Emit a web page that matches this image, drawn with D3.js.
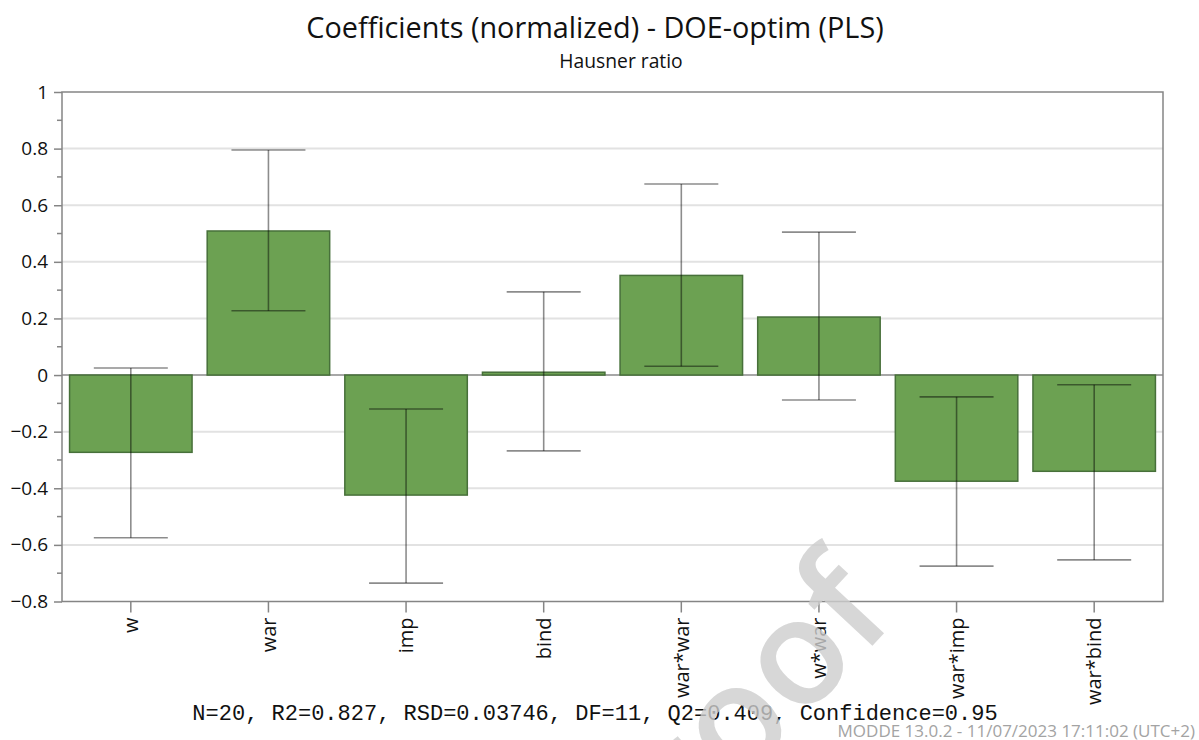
<!DOCTYPE html>
<html>
<head>
<meta charset="utf-8">
<script src="https://cdn.jsdelivr.net/npm/d3@7"></script>
<style>
  body { margin: 0; background: #fff; }
  svg { display: block; font-family: "Open Sans", "Noto Sans", sans-serif; }
</style>
</head>
<body>
<div id="chart"></div>
<script>
const terms = ['w', 'war', 'imp', 'bind', 'war*war', 'w*war', 'war*imp', 'war*bind'];
const coefficients = [-0.273, 0.509, -0.424, 0.01, 0.352, 0.205, -0.375, -0.34];
const ciUpper = [0.025, 0.795, -0.12, 0.294, 0.675, 0.505, -0.077, -0.034];
const ciLower = [-0.575, 0.227, -0.735, -0.268, 0.031, -0.088, -0.675, -0.653];
const yTicks = [-0.8, -0.6, -0.4, -0.2, 0, 0.2, 0.4, 0.6, 0.8, 1];
const yMinorTicks = [-0.7, -0.5, -0.3, -0.1, 0.1, 0.3, 0.5, 0.7, 0.9];

const title = 'Coefficients (normalized) - DOE-optim (PLS)';
const subtitle = 'Hausner ratio';
const footer = 'N=20, R2=0.827, RSD=0.03746, DF=11, Q2=0.409, Confidence=0.95';
const stamp = 'MODDE 13.0.2 - 11/07/2023 17:11:02 (UTC+2)';

const data = terms.map((t, i) => ({
    term: t, value: coefficients[i], hi: ciUpper[i], lo: ciLower[i]
}));

const width = 1199;
const height = 740;
const margin = { top: 92, right: 36, bottom: 138.5, left: 62 };

const svg = d3.select('#chart')
    .append('svg')
    .attr('width', width)
    .attr('height', height);

const x = d3.scaleBand()
    .domain(terms)
    .range([margin.left, width - margin.right])
    .paddingInner(0.11)
    .paddingOuter(0.055);

const y = d3.scaleLinear()
    .domain([-0.8, 1])
    .range([height - margin.bottom, margin.top]);

// grid
svg.append('g')
    .selectAll('line')
    .data(yTicks.filter(d => d !== 0 && d !== 1 && d !== -0.8))
    .join('line')
    .attr('x1', margin.left)
    .attr('x2', width - margin.right)
    .attr('y1', d => y(d))
    .attr('y2', d => y(d))
    .attr('stroke', '#e2e2e2')
    .attr('stroke-width', 2);

// zero line
svg.append('line')
    .attr('x1', margin.left)
    .attr('x2', width - margin.right)
    .attr('y1', y(0))
    .attr('y2', y(0))
    .attr('stroke', '#8a8a8a')
    .attr('stroke-width', 1.5);

// bars
svg.append('g')
    .selectAll('rect')
    .data(data)
    .join('rect')
    .attr('x', d => x(d.term))
    .attr('width', x.bandwidth())
    .attr('y', d => y(Math.max(0, d.value)))
    .attr('height', d => Math.abs(y(d.value) - y(0)))
    .attr('fill', '#6ca152')
    .attr('stroke', '#47703a')
    .attr('stroke-width', 1.5);

// error bars
const capW = 74;
const err = svg.append('g')
    .attr('stroke', 'rgba(0,0,0,0.45)')
    .attr('stroke-width', 1.6)
    .selectAll('g')
    .data(data)
    .join('g')
    .attr('transform', d => `translate(${x(d.term) + x.bandwidth() / 2},0)`);

err.append('line')
    .attr('y1', d => y(d.hi))
    .attr('y2', d => y(d.lo));
err.append('line')
    .attr('x1', -capW / 2).attr('x2', capW / 2)
    .attr('y1', d => y(d.hi)).attr('y2', d => y(d.hi));
err.append('line')
    .attr('x1', -capW / 2).attr('x2', capW / 2)
    .attr('y1', d => y(d.lo)).attr('y2', d => y(d.lo));

// frame
svg.append('rect')
    .attr('x', margin.left)
    .attr('y', margin.top)
    .attr('width', width - margin.left - margin.right)
    .attr('height', height - margin.top - margin.bottom)
    .attr('fill', 'none')
    .attr('stroke', '#858585')
    .attr('stroke-width', 1.5);

// y axis
svg.append('g')
    .attr('transform', `translate(${margin.left},0)`)
    .call(d3.axisLeft(y).tickValues(yTicks).tickSize(8).tickPadding(6)
        .tickFormat(d => d3.format('')(Math.round(d * 10) / 10)))
    .call(g => g.select('.domain').remove())
    .call(g => g.selectAll('.tick line').attr('stroke', '#858585').attr('stroke-width', 1.5))
    .call(g => g.selectAll('.tick text')
        .attr('fill', '#111')
        .style('font-size', '19px')
        .style('font-family', '"Open Sans", sans-serif'));

svg.append('g')
    .selectAll('line')
    .data(yMinorTicks)
    .join('line')
    .attr('x1', margin.left - 5)
    .attr('x2', margin.left)
    .attr('y1', d => y(d))
    .attr('y2', d => y(d))
    .attr('stroke', '#858585')
    .attr('stroke-width', 1.5);

// x axis
svg.append('g')
    .attr('transform', `translate(0,${height - margin.bottom})`)
    .call(d3.axisBottom(x).tickSize(11).tickPadding(4))
    .call(g => g.select('.domain').remove())
    .call(g => g.selectAll('.tick line').attr('stroke', '#858585').attr('stroke-width', 1.5))
    .call(g => g.selectAll('.tick text')
        .attr('fill', '#111')
        .attr('transform', 'rotate(-90)')
        .attr('text-anchor', 'end')
        .attr('x', -16)
        .attr('y', 0)
        .attr('dy', '0.36em')
        .style('font-size', '20px')
        .style('font-family', '"Open Sans", sans-serif'));

// titles
svg.append('text')
    .attr('x', 595)
    .attr('y', 38)
    .attr('text-anchor', 'middle')
    .style('font-size', '28.8px')
    .attr('fill', '#111')
    .text(title);

svg.append('text')
    .attr('x', 621)
    .attr('y', 68)
    .attr('text-anchor', 'middle')
    .style('font-size', '19.3px')
    .attr('fill', '#111')
    .text(subtitle);

svg.append('text')
    .attr('x', 595)
    .attr('y', 720)
    .attr('text-anchor', 'middle')
    .style('font-family', '"Liberation Mono", "DejaVu Sans Mono", monospace')
    .style('font-size', '22px')
    .attr('fill', '#111')
    .text(footer);

svg.append('text')
    .attr('x', 1195)
    .attr('y', 737)
    .attr('text-anchor', 'end')
    .style('font-size', '17px')
    .attr('fill', '#a3a3a3')
    .text(stamp);

// watermark
svg.append('text')
    .attr('transform', 'translate(695,836) rotate(-47)')
    .style('font-size', '148px')
    .style('font-weight', '600')
    .attr('fill', 'rgba(205,205,205,0.8)')
    .text('roof');
</script>
</body>
</html>
